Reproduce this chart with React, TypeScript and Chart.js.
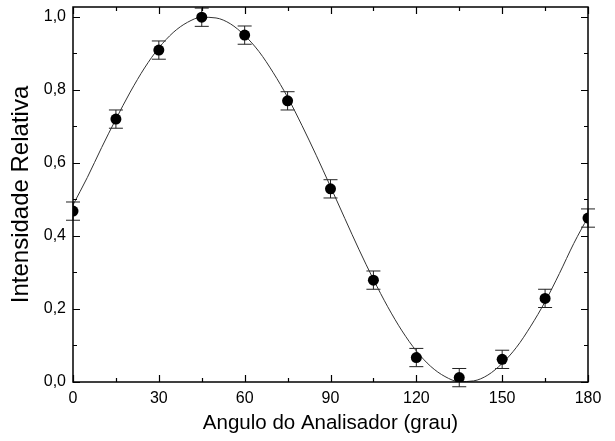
import React, { useEffect, useRef } from 'react';
import { Chart, registerables } from 'chart.js';

Chart.register(...registerables);

// Measured data
const angles = [0, 15, 30, 45, 60, 75, 90, 105, 120, 135, 150, 165, 180];
const intensity = [0.468, 0.72, 0.909, 0.999, 0.95, 0.77, 0.529, 0.279, 0.067, 0.012, 0.062, 0.229, 0.449];
const errors = [0.025, 0.025, 0.025, 0.025, 0.025, 0.025, 0.025, 0.025, 0.025, 0.025, 0.025, 0.025, 0.025];

// Fitted curve
const fitAngles = [0, 5, 10, 15, 20, 25, 30, 35, 40, 45, 50, 55, 60, 65, 70, 75, 80, 85, 90, 95, 100, 105, 110, 115, 120, 125, 130, 135, 140, 145, 150, 155, 160, 165, 170, 175, 180];
const fitValues = [0.485, 0.56, 0.642, 0.72, 0.794, 0.86, 0.915, 0.957, 0.985, 0.999, 0.997, 0.981, 0.949, 0.905, 0.847, 0.78, 0.703, 0.621, 0.535, 0.448, 0.362, 0.281, 0.206, 0.14, 0.085, 0.043, 0.015, 0.001, 0.003, 0.019, 0.051, 0.095, 0.153, 0.22, 0.297, 0.379, 0.452];

// Axis ticks
const xTicks = [0, 30, 60, 90, 120, 150, 180];
const xMinor = [15, 45, 75, 105, 135, 165];
const yTicks = [0, 0.2, 0.4, 0.6, 0.8, 1.0];
const yMinor = [0.1, 0.3, 0.5, 0.7, 0.9];

const xTitle = 'Angulo do Analisador (grau)';
const yTitle = 'Intensidade Relativa';

const FONT = "'Liberation Sans', Arial, Helvetica, sans-serif";

const framePlugin = {
  id: 'frameTicks',
  afterDatasetsDraw(chart: any) {
    const { ctx, chartArea: a, scales } = chart;
    const xs = scales.x;
    const ys = scales.y;
    ctx.save();
    ctx.strokeStyle = '#000';
    ctx.lineWidth = 1.5;
    ctx.strokeRect(a.left, a.top, a.right - a.left, a.bottom - a.top);
    ctx.lineWidth = 1.2;
    const major = 7;
    const minor = 4;
    ctx.beginPath();
    const xt = (vals: number[], len: number) => {
      vals.forEach((v) => {
        const px = Math.round(xs.getPixelForValue(v)) + 0.5;
        ctx.moveTo(px, a.bottom);
        ctx.lineTo(px, a.bottom - len);
        ctx.moveTo(px, a.top);
        ctx.lineTo(px, a.top + len);
      });
    };
    const yt = (vals: number[], len: number) => {
      vals.forEach((v) => {
        const py = Math.round(ys.getPixelForValue(v)) + 0.5;
        ctx.moveTo(a.left, py);
        ctx.lineTo(a.left + len, py);
        ctx.moveTo(a.right, py);
        ctx.lineTo(a.right - len, py);
      });
    };
    xt(xTicks, major);
    xt(xMinor, minor);
    yt(yTicks, major);
    yt(yMinor, minor);
    ctx.stroke();
    ctx.restore();
  },
};

const errorBarPlugin = {
  id: 'errorBars',
  beforeDatasetsDraw(chart: any) {
    const { ctx, scales } = chart;
    const xs = scales.x;
    const ys = scales.y;
    ctx.save();
    ctx.strokeStyle = '#222';
    ctx.lineWidth = 1;
    ctx.beginPath();
    angles.forEach((a, i) => {
      const px = xs.getPixelForValue(a);
      const top = ys.getPixelForValue(intensity[i] + errors[i]);
      const bot = ys.getPixelForValue(intensity[i] - errors[i]);
      const hw = 7;
      ctx.moveTo(px, top);
      ctx.lineTo(px, bot);
      ctx.moveTo(px - hw, top);
      ctx.lineTo(px + hw, top);
      ctx.moveTo(px - hw, bot);
      ctx.lineTo(px + hw, bot);
    });
    ctx.stroke();
    ctx.restore();
  },
};

export default function App() {
  const ref = useRef<HTMLCanvasElement>(null);

  useEffect(() => {
    if (!ref.current) return;
    const chart = new Chart(ref.current, {
      type: 'scatter',
      data: {
        datasets: [
          {
            label: 'Ajuste',
            data: fitAngles.map((x, i) => ({ x, y: fitValues[i] })),
            showLine: true,
            borderColor: '#333',
            borderWidth: 1,
            pointRadius: 0,
            cubicInterpolationMode: 'monotone',
            order: 2,
          } as any,
          {
            label: 'Dados',
            data: angles.map((x, i) => ({ x, y: intensity[i] })),
            backgroundColor: '#000',
            borderColor: '#000',
            pointRadius: 5.5,
            pointBorderWidth: 0,
            order: 1,
          },
        ],
      },
      options: {
        animation: false,
        responsive: true,
        maintainAspectRatio: false,
        layout: { padding: { top: 7, right: 27, bottom: 0, left: 0 } },
        plugins: { legend: { display: false }, tooltip: { enabled: false } },
        scales: {
          x: {
            type: 'linear',
            min: 0,
            max: 180,
            afterFit: (s: any) => { s.height = 59; s.paddingLeft = 0; s.paddingRight = 0; },
            afterBuildTicks: (s: any) => { s.ticks = xTicks.map((v) => ({ value: v })); },
            grid: { display: false, drawTicks: false },
            border: { display: false },
            ticks: {
              color: '#000',
              padding: 7,
              font: { family: FONT, size: 16 },
              callback: (v: any) => String(v),
            },
            title: {
              display: true,
              text: xTitle,
              color: '#000',
              font: { family: FONT, size: 20.5 },
              padding: { top: 0, bottom: 5 },
            },
          },
          y: {
            type: 'linear',
            min: 0,
            max: 1.027,
            afterFit: (s: any) => { s.width = 73; s.paddingTop = 0; s.paddingBottom = 0; },
            afterBuildTicks: (s: any) => { s.ticks = yTicks.map((v) => ({ value: v })); },
            grid: { display: false, drawTicks: false },
            border: { display: false },
            ticks: {
              color: '#000',
              padding: 7,
              font: { family: FONT, size: 16 },
              callback: (v: any) => Number(v).toFixed(1).replace('.', ','),
            },
            title: {
              display: true,
              text: yTitle,
              color: '#000',
              font: { family: FONT, size: 24 },
              padding: { top: 7, bottom: 0 },
            },
          },
        },
      },
      plugins: [errorBarPlugin, framePlugin],
    });
    return () => chart.destroy();
  }, []);

  return (
    <div style={{ position: 'fixed', left: 0, top: 0, width: 615, height: 441, background: '#fff' }}>
      <canvas ref={ref} />
    </div>
  );
}
